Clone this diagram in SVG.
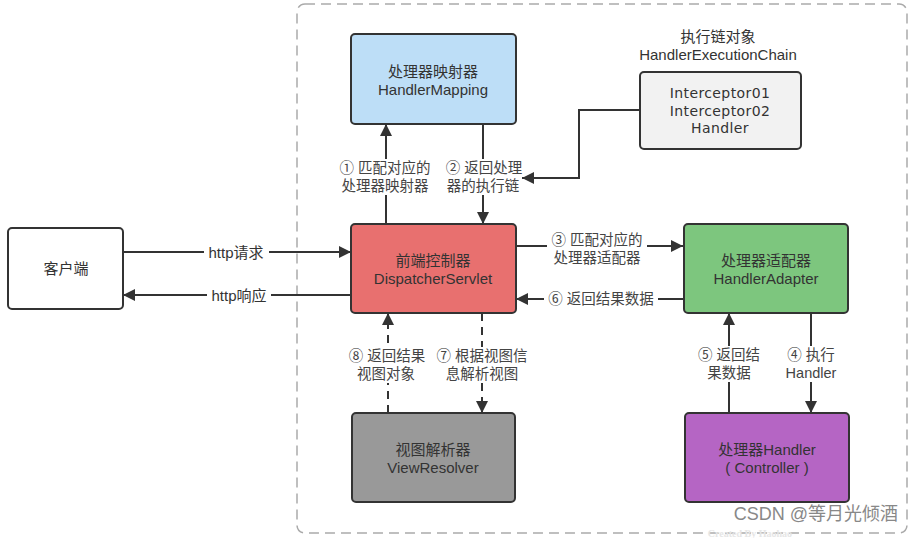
<svg xmlns="http://www.w3.org/2000/svg" width="913" height="538" viewBox="0 0 913 538">
<defs>
<style>
.box{stroke:#333;stroke-width:2}
.t{font-family:"Liberation Sans","Noto Sans CJK SC",sans-serif;font-size:15px;fill:#333;text-anchor:middle;dominant-baseline:central}
.tl{font-family:"Liberation Sans","Noto Sans CJK SC",sans-serif;font-size:14.5px;fill:#444;text-anchor:middle;dominant-baseline:central}
.dv{font-family:"DejaVu Sans",sans-serif;font-size:14px;letter-spacing:0.4px;fill:#333;text-anchor:middle;dominant-baseline:central}
.ln{stroke:#333;stroke-width:2;fill:none}
.dash{stroke-dasharray:8,6}
.bg{fill:#fff}
</style>
<marker id="ah" viewBox="0 0 12 12" refX="12" refY="6" markerWidth="12" markerHeight="12" markerUnits="userSpaceOnUse" orient="auto">
<path d="M0,0 L12,6 L0,12 z" fill="#333"/>
</marker>
</defs>
<rect width="913" height="538" fill="#fff"/>
<g id="container">
<rect x="297" y="4" width="610" height="529" rx="8" fill="none" stroke="#aaa" stroke-width="1.5" stroke-dasharray="10,6"/>
</g>
<g id="connectors">
<g id="e-http-req">
<line class="ln" x1="123" y1="252" x2="351" y2="252" marker-end="url(#ah)"/>
<rect class="bg" x="204" y="244" width="65" height="16"/>
<text class="t" x="236" y="252">http请求</text>
</g>
<g id="e-http-resp">
<line class="ln" x1="351" y1="295" x2="123" y2="295" marker-end="url(#ah)"/>
<rect class="bg" x="207" y="287" width="64" height="16"/>
<text class="t" x="239" y="295">http响应</text>
</g>
<g id="e1">
<line class="ln" x1="386" y1="224" x2="386" y2="124" marker-end="url(#ah)"/>
<rect class="bg" x="336" y="159" width="98" height="36"/>
<text class="tl" x="385" y="168">① 匹配对应的</text>
<text class="tl" x="385" y="186">处理器映射器</text>
</g>
<g id="e2">
<line class="ln" x1="483" y1="124" x2="483" y2="224" marker-end="url(#ah)"/>
<rect class="bg" x="444" y="159" width="78" height="36"/>
<text class="tl" x="484" y="168">② 返回处理</text>
<text class="tl" x="483" y="186">器的执行链</text>
</g>
<g id="e-chain">
<polyline class="ln" points="640,110 579,110 579,178 522,178" marker-end="url(#ah)"/>
</g>
<g id="e3">
<line class="ln" x1="516" y1="246" x2="683" y2="246" marker-end="url(#ah)"/>
<rect class="bg" x="547" y="232" width="100" height="34"/>
<text class="tl" x="597" y="240">③ 匹配对应的</text>
<text class="tl" x="597" y="258">处理器适配器</text>
</g>
<g id="e6">
<line class="ln" x1="683" y1="299" x2="516" y2="299" marker-end="url(#ah)"/>
<rect class="bg" x="544" y="291" width="114" height="16"/>
<text class="tl" x="601" y="299">⑥ 返回结果数据</text>
</g>
<g id="e4">
<line class="ln" x1="811" y1="313" x2="811" y2="413" marker-end="url(#ah)"/>
<rect class="bg" x="781" y="346" width="60" height="36"/>
<text class="tl" x="811" y="355">④ 执行</text>
<text class="tl" x="811" y="373">Handler</text>
</g>
<g id="e5">
<line class="ln" x1="729" y1="413" x2="729" y2="313" marker-end="url(#ah)"/>
<rect class="bg" x="694" y="346" width="70" height="36"/>
<text class="tl" x="729" y="355">⑤ 返回结</text>
<text class="tl" x="729" y="373">果数据</text>
</g>
<g id="e7">
<line class="ln dash" x1="482" y1="313" x2="482" y2="413" marker-end="url(#ah)"/>
<rect class="bg" x="433" y="347" width="98" height="36"/>
<text class="tl" x="482" y="356">⑦ 根据视图信</text>
<text class="tl" x="482" y="374">息解析视图</text>
</g>
<g id="e8">
<line class="ln dash" x1="388" y1="413" x2="388" y2="313" marker-end="url(#ah)"/>
<rect class="bg" x="346" y="347" width="84" height="36"/>
<text class="tl" x="387" y="356">⑧ 返回结果</text>
<text class="tl" x="386" y="374">视图对象</text>
</g>
</g>
<g id="client">
<rect class="box" x="8" y="228" width="115" height="81" rx="4" fill="#fff"/>
<text class="t" x="66" y="268">客户端</text>
</g>
<g id="handlerMapping">
<rect class="box" x="351" y="34" width="165" height="90" rx="4" fill="#BDDEF7"/>
<text class="t" x="433" y="71">处理器映射器</text>
<text class="t" x="433" y="89">HandlerMapping</text>
</g>
<g id="chainTitle">
<text class="t" x="718" y="36">执行链对象</text>
<text class="t" x="718" y="54">HandlerExecutionChain</text>
</g>
<g id="chain">
<rect class="box" x="640" y="72" width="161" height="77" rx="4" fill="#F2F2F2"/>
<text class="dv" x="720" y="93">Interceptor01</text>
<text class="dv" x="720" y="111">Interceptor02</text>
<text class="dv" x="720" y="128">Handler</text>
</g>
<g id="dispatcher">
<rect class="box" x="351" y="224" width="165" height="89" rx="4" fill="#E8706F"/>
<text class="t" x="433" y="260">前端控制器</text>
<text class="t" x="433" y="278">DispatcherServlet</text>
</g>
<g id="handlerAdapter">
<rect class="box" x="684" y="224" width="164" height="89" rx="4" fill="#7DC67E"/>
<text class="t" x="766" y="260">处理器适配器</text>
<text class="t" x="766" y="278">HandlerAdapter</text>
</g>
<g id="viewResolver">
<rect class="box" x="352" y="413" width="163" height="89" rx="4" fill="#999999"/>
<text class="t" x="433" y="449">视图解析器</text>
<text class="t" x="433" y="467">ViewResolver</text>
</g>
<g id="handler">
<rect class="box" x="685" y="413" width="164" height="89" rx="4" fill="#B565C4"/>
<text class="t" x="767" y="449">处理器Handler</text>
<text class="t" x="767" y="467">( Controller )</text>
</g>
<g id="watermark">
<text x="750" y="537" font-family="'Liberation Serif',serif" font-size="10" font-weight="bold" fill="#e6e6e6" text-anchor="middle">Created By Haohao</text>
<text x="898" y="520" font-family="'Liberation Sans','Noto Sans CJK SC',sans-serif" font-size="18" fill="#888" text-anchor="end">CSDN @等月光倾酒</text>
</g>
</svg>
